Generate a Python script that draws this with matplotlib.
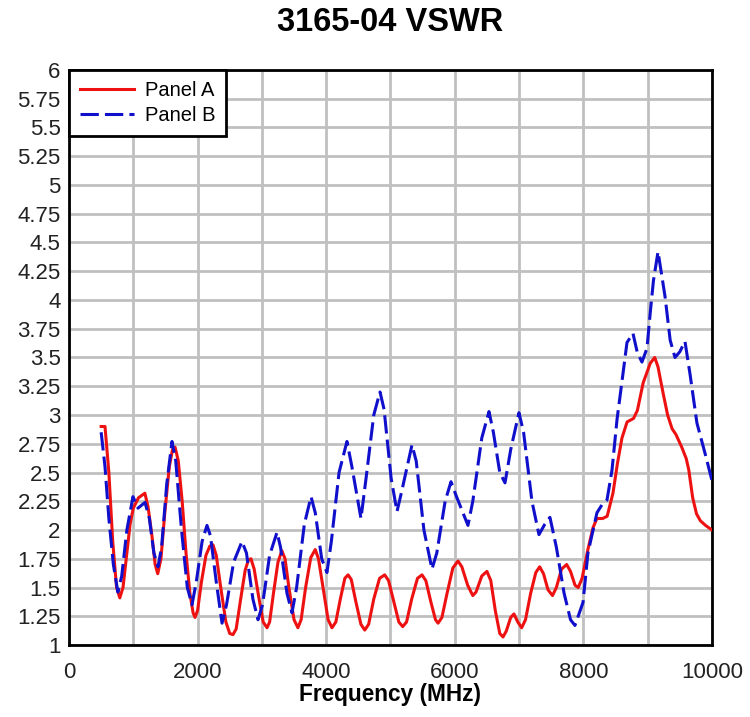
import matplotlib
matplotlib.use('Agg')
import matplotlib.pyplot as plt
from matplotlib.ticker import MultipleLocator, FuncFormatter

plt.rcParams['font.family'] = ['Liberation Sans', 'DejaVu Sans']

# Panel A (red, solid) - frequency in MHz, VSWR
freq_a = [500, 560, 620, 680, 740, 790, 840, 900, 950, 1000, 1080, 1180, 1230, 1290,
          1340, 1380, 1430, 1490, 1560, 1610, 1650, 1700, 1760, 1820, 1880, 1930, 1960,
          2000, 2060, 2130, 2190, 2240, 2290, 2360, 2440, 2500, 2550, 2600, 2670, 2740,
          2790, 2830, 2880, 2950, 3020, 3080, 3120, 3180, 3250, 3310, 3360, 3420, 3500,
          3560, 3610, 3680, 3760, 3830, 3880, 3950, 4030, 4090, 4150, 4220, 4290, 4340,
          4390, 4460, 4540, 4600, 4660, 4740, 4830, 4910, 4970, 5050, 5130, 5190, 5250,
          5330, 5420, 5490, 5550, 5630, 5700, 5740, 5800, 5880, 5970, 6050, 6110, 6200,
          6280, 6330, 6420, 6500, 6560, 6630, 6700, 6750, 6800, 6870, 6920, 6980, 7040,
          7100, 7180, 7260, 7320, 7380, 7450, 7520, 7580, 7660, 7740, 7800, 7870, 7920,
          7980, 8070, 8150, 8210, 8300, 8370, 8460, 8530, 8600, 8680, 8780, 8840, 8930,
          9040, 9110, 9160, 9240, 9310, 9380, 9440, 9530, 9600, 9640, 9700, 9760, 9820,
          9900, 10000]
vswr_a = [2.9, 2.9, 2.5, 1.9, 1.5, 1.41, 1.5, 1.8, 2.05, 2.19, 2.28, 2.32, 2.2, 1.95,
          1.7, 1.62, 1.75, 2.15, 2.55, 2.7, 2.72, 2.6, 2.25, 1.8, 1.45, 1.28, 1.24,
          1.3, 1.55, 1.78, 1.86, 1.87, 1.78, 1.5, 1.2, 1.1, 1.09, 1.14, 1.4, 1.65,
          1.74, 1.75, 1.66, 1.42, 1.2, 1.15, 1.2, 1.45, 1.72, 1.82, 1.75, 1.5, 1.22,
          1.15, 1.22, 1.5, 1.76, 1.83, 1.75, 1.5, 1.22, 1.15, 1.2, 1.4, 1.58, 1.61,
          1.57, 1.38, 1.18, 1.13, 1.18, 1.4, 1.58, 1.61, 1.56, 1.38, 1.2, 1.16, 1.2,
          1.4, 1.58, 1.61, 1.56, 1.37, 1.22, 1.19, 1.24, 1.45, 1.67, 1.73, 1.68, 1.52,
          1.43, 1.46, 1.6, 1.64, 1.56, 1.3, 1.1, 1.07, 1.12, 1.24, 1.27, 1.2, 1.15,
          1.22, 1.45, 1.63, 1.68, 1.62, 1.48, 1.43, 1.5, 1.66, 1.7, 1.64, 1.52, 1.5,
          1.58, 1.83, 2.02, 2.1, 2.1, 2.12, 2.32, 2.58, 2.8, 2.94, 2.97, 3.04, 3.28,
          3.45, 3.5, 3.42, 3.19, 3.0, 2.88, 2.83, 2.72, 2.62, 2.52, 2.28, 2.14, 2.08,
          2.04, 2.0]

# Panel B (blue, dashed)
freq_b = [500, 560, 620, 690, 760, 820, 900, 995, 1073, 1182, 1250, 1320, 1384, 1440,
          1520, 1602, 1660, 1750, 1840, 1913, 1980, 2070, 2146, 2200, 2290, 2380, 2450,
          2560, 2690, 2760, 2860, 2940, 3010, 3120, 3235, 3290, 3390, 3468, 3540, 3660,
          3764, 3830, 3930, 4012, 4080, 4200, 4323, 4400, 4541, 4620, 4740, 4837, 4900,
          5010, 5101, 5180, 5334, 5400, 5520, 5645, 5720, 5850, 5941, 6020, 6205, 6280,
          6420, 6532, 6600, 6700, 6781, 6870, 6998, 7070, 7200, 7309, 7400, 7480, 7580,
          7700, 7800, 7869, 7994, 8071, 8211, 8290, 8367, 8445, 8523, 8616, 8678, 8771,
          8840, 8911, 8989, 9040, 9090, 9161, 9270, 9350, 9425, 9500, 9580, 9660, 9766,
          9900, 10000]
vswr_b = [2.85, 2.55, 2.1, 1.7, 1.46, 1.6, 2.0, 2.29, 2.19, 2.24, 2.1, 1.8, 1.68, 1.85,
          2.4, 2.77, 2.6, 2.0, 1.5, 1.35, 1.55, 1.9, 2.04, 1.95, 1.55, 1.19, 1.35,
          1.72, 1.9, 1.8, 1.4, 1.22, 1.35, 1.78, 1.98, 1.85, 1.45, 1.28, 1.5, 2.05,
          2.29, 2.15, 1.75, 1.63, 1.9, 2.5, 2.77, 2.55, 2.1, 2.45, 3.0, 3.2, 3.05,
          2.45, 2.16, 2.35, 2.74, 2.6, 2.0, 1.66, 1.8, 2.25, 2.42, 2.3, 2.04, 2.25,
          2.8, 3.03, 2.85, 2.5, 2.41, 2.7, 3.02, 2.85, 2.25, 1.96, 2.05, 2.11, 1.85,
          1.45, 1.22, 1.17, 1.37, 1.8, 2.15, 2.22, 2.26, 2.52, 2.96, 3.36, 3.63, 3.71,
          3.54, 3.46, 3.58, 3.89, 4.17, 4.42, 4.03, 3.65, 3.5, 3.55, 3.64, 3.35, 2.93,
          2.65, 2.43]

x_ticks = [0, 2000, 4000, 6000, 8000, 10000]

fig = plt.figure(figsize=(7.5, 7.17), dpi=100)
ax = fig.add_axes([0.092, 0.1004, 0.8573, 0.802])

ax.plot(freq_a, vswr_a, color='#ee1111', lw=2.2, label='Panel A', zorder=3)
ax.plot(freq_b, vswr_b, color='#1010cc', lw=2.2, dashes=(6, 2), label='Panel B', zorder=3)

ax.set_xlim(0, 10000)
ax.set_ylim(1, 6)
ax.set_xticks(x_ticks)
ax.xaxis.set_minor_locator(MultipleLocator(1000))
ax.yaxis.set_major_locator(MultipleLocator(0.25))
ax.yaxis.set_major_formatter(FuncFormatter(lambda v, p: '%g' % v))
ax.grid(True, which='both', color='#c0c0c0', lw=2)
ax.set_axisbelow(True)
ax.tick_params(which='both', length=0, labelsize=16, colors='#222222')
ax.tick_params(axis='x', pad=12)
ax.tick_params(axis='y', pad=6)
for s in ax.spines.values():
    s.set_linewidth(2)
    s.set_color('black')

ax.set_xlabel('Frequency (MHz)', fontsize=16.3, fontweight='bold', labelpad=0)
fig.suptitle('3165-04 VSWR', fontsize=23.5, fontweight='bold', x=0.52, y=0.99)

leg = ax.legend(loc='upper left', fontsize=14.5, borderaxespad=0, fancybox=False,
                framealpha=1, edgecolor='black', handlelength=2.7, handletextpad=0.5,
                labelspacing=0.3, borderpad=0.55)
leg.get_frame().set_linewidth(2)

fig.savefig('out.png', dpi=100, facecolor='white')
